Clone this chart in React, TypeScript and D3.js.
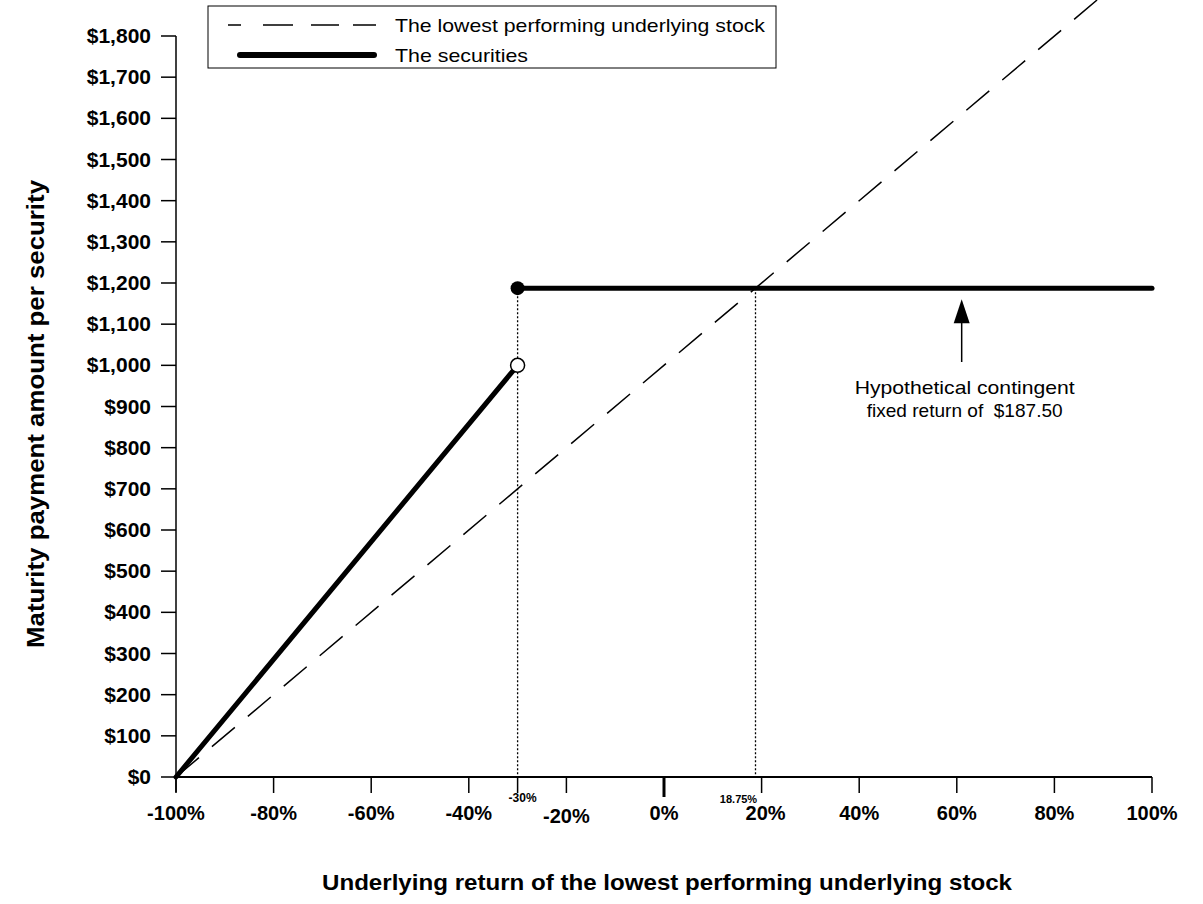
import * as d3 from "d3";

// x values are underlying returns in %, y values are payment amounts in $
const stockReturns = [-100, 100];
const stockPayments = [0, 2000];
const securityLowReturns = [-100, -30];
const securityLowPayments = [0, 1000];
const securityHighReturns = [-30, 100];
const securityHighPayments = [1187.5, 1187.5];
const markerReturns = [-30, 18.75];
const markerLabels = ["-30%", "18.75%"];
const xTicks = [-100, -80, -60, -40, -20, 0, 20, 40, 60, 80, 100];
const yTicks = d3.range(0, 1900, 100);
const legendLabels = ["The lowest performing underlying stock", "The securities"];
const noteLines = ["Hypothetical contingent", "fixed return of  $187.50"];
const noteReturn = 61;

const W = 1203;
const H = 904;
const font = "'Liberation Sans', Arial, sans-serif";

export default function App() {
  const x = d3.scaleLinear().domain([-100, 100]).range([176, 1152]);
  const y = d3.scaleLinear().domain([0, 1800]).range([777, 36]);
  const line = d3
    .line<number[]>()
    .x((d) => x(d[0]))
    .y((d) => y(d[1]));
  const pts = (xs: number[], ys: number[]) => xs.map((v, i) => [v, ys[i]]);

  const fmtY = (v: number) => "$" + d3.format(",")(v);
  const fixedY = y(securityHighPayments[0]);
  const noteX = x(noteReturn);

  return (
    <svg
      width={W}
      height={H}
      style={{ position: "absolute", left: 0, top: 0, background: "#fff" }}
      fontFamily={font}
    >
      <defs>
        <clipPath id="plot">
          <rect x={150} y={0} width={1020} height={800} />
        </clipPath>
      </defs>

      {/* y axis */}
      <line x1={176} x2={176} y1={y(1800)} y2={792} stroke="#000" strokeWidth={1.5} />
      {yTicks.map((t) => (
        <g key={t}>
          <line x1={161} x2={176} y1={y(t)} y2={y(t)} stroke="#000" strokeWidth={1.5} />
          <text x={151} y={y(t) + 7} textAnchor="end" fontSize={21} fontWeight="bold">
            {fmtY(t)}
          </text>
        </g>
      ))}

      {/* x axis */}
      <line x1={176} x2={x(100)} y1={777} y2={777} stroke="#000" strokeWidth={2} />
      {xTicks.map((t) => (
        <g key={t}>
          <line
            x1={x(t)}
            x2={x(t)}
            y1={777}
            y2={t === 0 ? 797 : 793}
            stroke="#000"
            strokeWidth={t === 0 ? 3 : 1.5}
          />
          <text
            x={x(t) + (t === 20 ? 4 : 0)}
            y={t === -20 ? 823 : 820}
            textAnchor="middle"
            fontSize={20}
            fontWeight="bold"
          >
            {t + "%"}
          </text>
        </g>
      ))}
      <line x1={x(-30)} x2={x(-30)} y1={777} y2={793} stroke="#000" strokeWidth={1.5} />

      {/* dotted guides */}
      {markerReturns.map((r, i) => (
        <g key={r}>
          <line
            x1={x(r)}
            x2={x(r)}
            y1={fixedY}
            y2={777}
            stroke="#000"
            strokeWidth={1.3}
            strokeDasharray="2,2"
          />
          <text
            x={x(r) + (i === 0 ? 5 : -17)}
            y={i === 0 ? 802 : 803}
            textAnchor="middle"
            fontSize={i === 0 ? 12 : 11}
            fontWeight="bold"
          >
            {markerLabels[i]}
          </text>
        </g>
      ))}

      {/* lowest performing stock */}
      <path
        d={line(pts(stockReturns, stockPayments)) || ""}
        clipPath="url(#plot)"
        fill="none"
        stroke="#000"
        strokeWidth={1.5}
        strokeDasharray="30,17"
      />

      {/* the securities */}
      <path
        d={line(pts(securityLowReturns, securityLowPayments)) || ""}
        fill="none"
        stroke="#000"
        strokeWidth={5}
        strokeLinecap="round"
      />
      <path
        d={line(pts(securityHighReturns, securityHighPayments)) || ""}
        fill="none"
        stroke="#000"
        strokeWidth={5}
        strokeLinecap="round"
      />
      <circle cx={x(-30)} cy={fixedY} r={7} fill="#000" />
      <circle
        cx={x(securityLowReturns[1])}
        cy={y(securityLowPayments[1])}
        r={7}
        fill="#fff"
        stroke="#000"
        strokeWidth={1.5}
      />

      {/* annotation */}
      <line x1={noteX} x2={noteX} y1={362} y2={318} stroke="#000" strokeWidth={1.5} />
      <path
        d={`M${noteX},${fixedY + 11}L${noteX - 8},${fixedY + 35}L${noteX + 8},${fixedY + 35}Z`}
        fill="#000"
      />
      {noteLines.map((s, i) => (
        <text
          key={s}
          x={noteX + 3}
          y={394 + i * 23}
          textAnchor="middle"
          fontSize={19}
          textLength={i === 0 ? 220 : 196}
          lengthAdjust="spacingAndGlyphs"
          style={{ whiteSpace: "pre" }}
        >
          {s}
        </text>
      ))}

      {/* legend */}
      <rect x={208} y={6} width={568} height={62} fill="#fff" stroke="#000" strokeWidth={1} />
      <line x1={228} x2={376} y1={25} y2={25} stroke="#000" strokeWidth={1.5} strokeDasharray="13,22,30,18,28,14,23" />
      <line x1={240} x2={374} y1={55} y2={55} stroke="#000" strokeWidth={6} strokeLinecap="round" />
      <text x={395} y={32} fontSize={19} textLength={370} lengthAdjust="spacingAndGlyphs">
        {legendLabels[0]}
      </text>
      <text x={395} y={62} fontSize={19} textLength={133} lengthAdjust="spacingAndGlyphs">
        {legendLabels[1]}
      </text>

      {/* axis titles */}
      <text
        x={667}
        y={890}
        textAnchor="middle"
        fontSize={22}
        fontWeight="bold"
        textLength={690}
        lengthAdjust="spacingAndGlyphs"
      >
        Underlying return of the lowest performing underlying stock
      </text>
      <text
        transform="translate(44,414) rotate(-90)"
        textAnchor="middle"
        fontSize={23}
        fontWeight="bold"
        textLength={468}
        lengthAdjust="spacingAndGlyphs"
      >
        Maturity payment amount per security
      </text>
    </svg>
  );
}
